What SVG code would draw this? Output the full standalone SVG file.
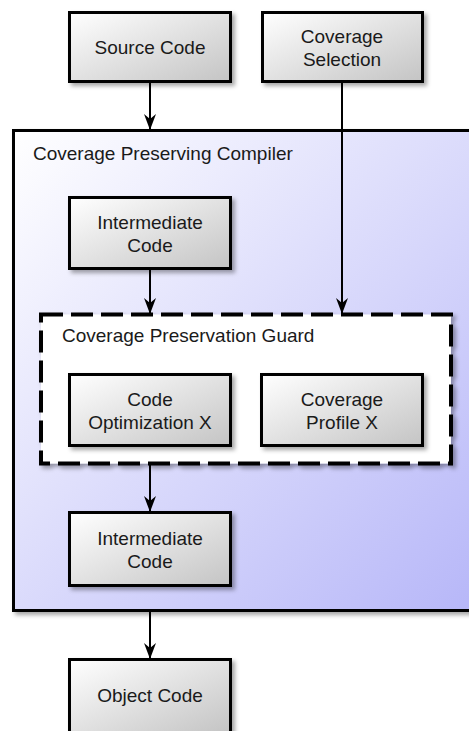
<svg xmlns="http://www.w3.org/2000/svg" width="469" height="731" viewBox="0 0 469 731">
<defs>
<linearGradient id="boxg" x1="0" y1="0" x2="1" y2="1">
<stop offset="0" stop-color="#ffffff"/>
<stop offset="1" stop-color="#c4c4c4"/>
</linearGradient>
<linearGradient id="contg" x1="0" y1="0" x2="1" y2="1">
<stop offset="0" stop-color="#ffffff"/>
<stop offset="1" stop-color="#b6b6f8"/>
</linearGradient>
<filter id="sh" x="-10%" y="-10%" width="130%" height="130%">
<feDropShadow dx="3" dy="3" stdDeviation="2" flood-color="#000" flood-opacity="0.35"/>
</filter>
<marker id="ah" markerWidth="16" markerHeight="12" refX="15" refY="6" orient="auto" markerUnits="userSpaceOnUse">
<path d="M0,0 L16,6 L0,12 L5,6 Z" fill="#000"/>
</marker>
<style>
.box{fill:url(#boxg);stroke:#000;stroke-width:3;filter:url(#sh)}
.t{font-family:"Liberation Sans",Arial,sans-serif;font-size:19px;fill:#1a1a1a}
.c{text-anchor:middle}
.e{stroke:#000;stroke-width:2;fill:none;marker-end:url(#ah)}
</style>
</defs>
<g id="compiler">
<rect x="13.5" y="130.5" width="470" height="480" fill="url(#contg)" stroke="#000" stroke-width="3" filter="url(#sh)"/>
<text class="t" x="33" y="160">Coverage Preserving Compiler</text>
</g>
<g id="source">
<rect class="box" x="69.5" y="12.5" width="161" height="69"/>
<text class="t c" x="150" y="54">Source Code</text>
</g>
<g id="selection">
<rect class="box" x="262.5" y="12.5" width="160" height="69"/>
<text class="t c" x="342" y="43">Coverage</text>
<text class="t c" x="342" y="66">Selection</text>
</g>
<g id="inter1">
<rect class="box" x="69.5" y="197.5" width="161" height="71"/>
<text class="t c" x="150" y="229">Intermediate</text>
<text class="t c" x="150" y="252">Code</text>
</g>
<g id="guard">
<rect x="41" y="314.5" width="410" height="149" fill="#fff" stroke="#000" stroke-width="4" stroke-dasharray="22,8" filter="url(#sh)"/>
<text class="t" x="62" y="342">Coverage Preservation Guard</text>
</g>
<g id="opt">
<rect class="box" x="69.5" y="374.5" width="161" height="71"/>
<text class="t c" x="150" y="406">Code</text>
<text class="t c" x="150" y="429">Optimization X</text>
</g>
<g id="profile">
<rect class="box" x="261.5" y="374.5" width="161" height="71"/>
<text class="t c" x="342" y="406">Coverage</text>
<text class="t c" x="342" y="429">Profile X</text>
</g>
<g id="inter2">
<rect class="box" x="69.5" y="512.5" width="161" height="73"/>
<text class="t c" x="150" y="545">Intermediate</text>
<text class="t c" x="150" y="568">Code</text>
</g>
<g id="object">
<rect class="box" x="69.5" y="659.5" width="161" height="73"/>
<text class="t c" x="150" y="702">Object Code</text>
</g>
<g id="connectors">
<line class="e" x1="150" y1="82" x2="150" y2="129"/>
<line class="e" x1="342" y1="82" x2="342" y2="313"/>
<line class="e" x1="150" y1="270" x2="150" y2="313"/>
<line class="e" x1="150" y1="465" x2="150" y2="511"/>
<line class="e" x1="150" y1="612" x2="150" y2="658"/>
</g>
</svg>
